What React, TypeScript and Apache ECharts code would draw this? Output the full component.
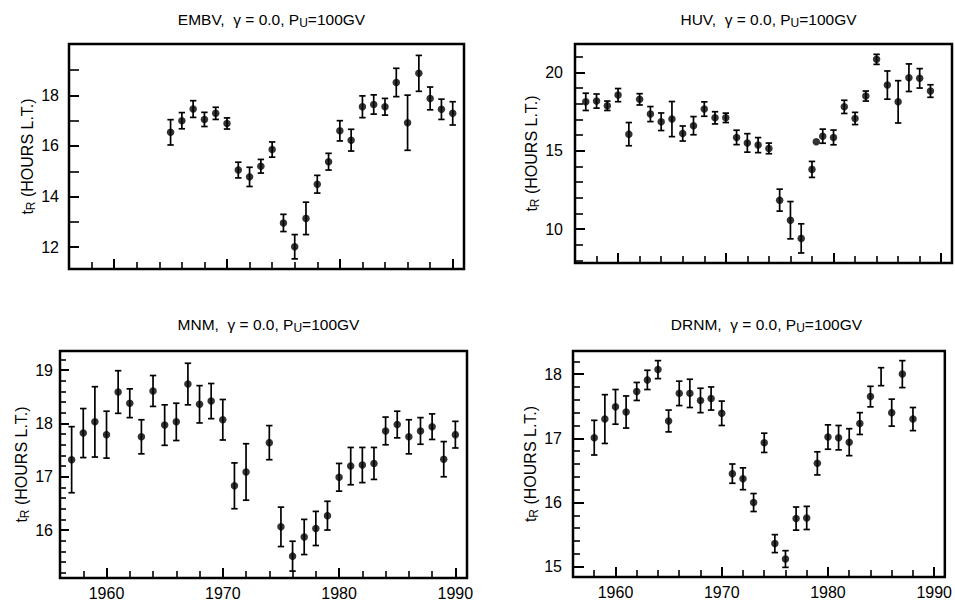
import React, { useEffect, useRef } from 'react';
import * as echarts from 'echarts';

// ---------------- data ----------------
const embvYears = [1965, 1966, 1967, 1968, 1969, 1970, 1971, 1972, 1973, 1974, 1975, 1976, 1977, 1978, 1979, 1980, 1981, 1982, 1983, 1984, 1985, 1986, 1987, 1988, 1989, 1990];
const embvValues = [16.54, 17.0, 17.46, 17.05, 17.29, 16.89, 15.05, 14.78, 15.2, 15.86, 12.96, 12.02, 13.14, 14.49, 15.38, 16.6, 16.23, 17.55, 17.64, 17.55, 18.51, 16.92, 18.87, 17.88, 17.45, 17.29];
const embvErrors = [0.5, 0.32, 0.33, 0.28, 0.24, 0.22, 0.31, 0.38, 0.27, 0.3, 0.34, 0.48, 0.64, 0.35, 0.33, 0.4, 0.43, 0.43, 0.38, 0.33, 0.56, 1.09, 0.71, 0.45, 0.4, 0.46];

const huvYears = [1957, 1958, 1959, 1960, 1961, 1962, 1963, 1964, 1965, 1966, 1967, 1968, 1969, 1970, 1971, 1972, 1973, 1974, 1975, 1976, 1977, 1978, 1979, 1980, 1981, 1982, 1983, 1984, 1985, 1986, 1987, 1988, 1989];
const huvValues = [18.12, 18.17, 17.87, 18.55, 16.06, 18.28, 17.34, 16.85, 17.02, 16.1, 16.6, 17.66, 17.1, 17.1, 15.85, 15.5, 15.36, 15.15, 11.85, 10.57, 9.41, 13.81, 15.93, 15.85, 17.8, 17.06, 18.49, 20.83, 19.19, 18.12, 19.66, 19.62, 18.81];
const huvErrors = [0.55, 0.45, 0.3, 0.42, 0.74, 0.36, 0.48, 0.56, 1.12, 0.48, 0.58, 0.46, 0.39, 0.3, 0.46, 0.59, 0.48, 0.34, 0.7, 1.19, 0.93, 0.51, 0.45, 0.47, 0.42, 0.39, 0.32, 0.32, 0.9, 1.35, 0.88, 0.62, 0.4];
const huvExtraYears = [1978.4];
const huvExtraValues = [15.57];

const mnmYears = [1957, 1958, 1959, 1960, 1961, 1962, 1963, 1964, 1965, 1966, 1967, 1968, 1969, 1970, 1971, 1972, 1974, 1975, 1976, 1977, 1978, 1979, 1980, 1981, 1982, 1983, 1984, 1985, 1986, 1987, 1988, 1989, 1990];
const mnmValues = [17.32, 17.82, 18.03, 17.79, 18.59, 18.38, 17.75, 18.61, 17.97, 18.03, 18.74, 18.36, 18.42, 18.07, 16.83, 17.09, 17.64, 16.06, 15.51, 15.87, 16.03, 16.27, 16.99, 17.2, 17.22, 17.25, 17.86, 17.98, 17.75, 17.86, 17.94, 17.33, 17.79];
const mnmErrors = [0.62, 0.46, 0.66, 0.44, 0.4, 0.27, 0.32, 0.29, 0.38, 0.35, 0.39, 0.35, 0.33, 0.38, 0.43, 0.53, 0.32, 0.37, 0.28, 0.33, 0.32, 0.27, 0.26, 0.35, 0.33, 0.3, 0.26, 0.25, 0.32, 0.25, 0.24, 0.33, 0.25];

const drnmYears = [1958, 1959, 1960, 1961, 1962, 1963, 1964, 1965, 1966, 1967, 1968, 1969, 1970, 1971, 1972, 1973, 1974, 1975, 1976, 1977, 1978, 1979, 1980, 1981, 1982, 1983, 1984, 1985, 1986, 1987, 1988];
const drnmValues = [17.01, 17.3, 17.49, 17.41, 17.73, 17.91, 18.07, 17.27, 17.7, 17.7, 17.59, 17.62, 17.39, 16.45, 16.37, 16.0, 16.93, 15.36, 15.12, 15.75, 15.76, 16.61, 17.02, 17.01, 16.94, 17.23, 17.65, 17.96, 17.4, 18.0, 17.3];
const drnmErrors = [0.27, 0.38, 0.27, 0.25, 0.14, 0.15, 0.14, 0.17, 0.19, 0.22, 0.19, 0.18, 0.19, 0.15, 0.17, 0.14, 0.15, 0.14, 0.13, 0.18, 0.18, 0.18, 0.19, 0.19, 0.21, 0.17, 0.16, 0.14, 0.21, 0.21, 0.18];
const drnmNoDotYears = [1985];

// tick values
const xMinorTicks = [1958, 1962, 1964, 1966, 1968, 1972, 1974, 1976, 1978, 1982, 1984, 1986, 1988];
const xMajorTicks = [1960, 1970, 1980, 1990];
const embvMinorTicks = [12, 13, 14, 15, 16, 17, 18, 19];
const embvLabels = [12, 14, 16, 18];
const huvMinorTicks = [8, 9, 11, 12, 13, 14, 16, 17, 18, 19, 21];
const huvLabels = [10, 15, 20];
const mnmMinorTicks = [15.2, 15.4, 15.6, 15.8, 16.2, 16.4, 16.6, 16.8, 17.2, 17.4, 17.6, 17.8, 18.2, 18.4, 18.6, 18.8, 19.2];
const mnmLabels = [16, 17, 18, 19];
const drnmMinorTicks = [15.2, 15.4, 15.6, 15.8, 16.2, 16.4, 16.6, 16.8, 17.2, 17.4, 17.6, 17.8, 18.2];
const drnmLabels = [15, 16, 17, 18];

const FONT = 'Liberation Sans, Arial, Helvetica, sans-serif';

type Panel = {
  name: string;
  years: number[];
  values: number[];
  errors: number[];
  extraYears?: number[];
  extraValues?: number[];
  noDot?: number[];
  grid: { left: number; top: number; width: number; height: number };
  yMin: number;
  yMax: number;
  yMinor: number[];
  yLabels: number[];
  yMinorLen: number;
  yMajorLen: number;
  labelMargin: number;
  nameGap: number;
  showXLabels: boolean;
  titleTop: number;
};

const panels: Panel[] = [
  {
    name: 'EMBV', years: embvYears, values: embvValues, errors: embvErrors,
    grid: { left: 69, top: 44, width: 395, height: 225 },
    yMin: 11.14, yMax: 20.03, yMinor: embvMinorTicks, yLabels: embvLabels,
    yMinorLen: 10, yMajorLen: 10, labelMargin: 10, nameGap: 32, showXLabels: false, titleTop: 5,
  },
  {
    name: 'HUV', years: huvYears, values: huvValues, errors: huvErrors,
    extraYears: huvExtraYears, extraValues: huvExtraValues,
    grid: { left: 575, top: 44, width: 377, height: 219 },
    yMin: 7.84, yMax: 21.81, yMinor: huvMinorTicks, yLabels: huvLabels,
    yMinorLen: 8, yMajorLen: 10, labelMargin: 12, nameGap: 34, showXLabels: false, titleTop: 5,
  },
  {
    name: 'MNM', years: mnmYears, values: mnmValues, errors: mnmErrors,
    grid: { left: 60, top: 351, width: 407, height: 227 },
    yMin: 15.1, yMax: 19.36, yMinor: mnmMinorTicks, yLabels: mnmLabels,
    yMinorLen: 6, yMajorLen: 9, labelMargin: 7, nameGap: 25, showXLabels: true, titleTop: 310,
  },
  {
    name: 'DRNM', years: drnmYears, values: drnmValues, errors: drnmErrors,
    noDot: drnmNoDotYears,
    grid: { left: 573, top: 351, width: 377, height: 226 },
    yMin: 14.84, yMax: 18.36, yMinor: drnmMinorTicks, yLabels: drnmLabels,
    yMinorLen: 7, yMajorLen: 11, labelMargin: 11, nameGap: 31, showXLabels: true, titleTop: 310,
  },
];

function buildOption() {
  const grid: any[] = [];
  const xAxis: any[] = [];
  const yAxis: any[] = [];
  const series: any[] = [];
  const title: any[] = [];
  const tickLine = { color: '#000', width: 1.6 };

  panels.forEach((p, i) => {
    grid.push({
      ...p.grid,
      show: true,
      borderColor: '#000',
      borderWidth: 2.5,
      backgroundColor: 'transparent',
      containLabel: false,
    });
    title.push({
      text: `{a|${p.name},  γ = 0.0, P}{s|U}{a|=100GV}`,
      left: p.grid.left + p.grid.width / 2,
      top: p.titleTop,
      textAlign: 'center',
      textStyle: {
        fontWeight: 'normal',
        rich: {
          a: { fontFamily: FONT, fontSize: 15.5, fontWeight: 'normal', color: '#000', lineHeight: 18 },
          s: { fontFamily: FONT, fontSize: 12, fontWeight: 'normal', color: '#000', lineHeight: 12, padding: [8, 0, 0, 0] },
        },
      },
    });
    const xBase = {
      type: 'value', gridIndex: i, min: 1956, max: 1991, position: 'bottom', offset: 0,
      axisLine: { show: false }, splitLine: { show: false },
    };
    // minor x ticks
    xAxis.push({
      ...xBase,
      axisTick: { show: true, inside: true, length: 7, lineStyle: tickLine, customValues: xMinorTicks },
      axisLabel: { show: false },
    });
    // major x ticks + labels
    xAxis.push({
      ...xBase,
      axisTick: { show: true, inside: true, length: 10, lineStyle: { color: '#000', width: 2 }, customValues: xMajorTicks },
      axisLabel: {
        show: p.showXLabels, customValues: xMajorTicks, fontFamily: FONT, fontSize: 16, color: '#000', margin: 7,
        formatter: (v: number) => String(Math.round(v)),
      },
    });
    const yBase = {
      type: 'value', gridIndex: i, min: p.yMin, max: p.yMax, position: 'left', offset: 0,
      axisLine: { show: false }, splitLine: { show: false },
    };
    yAxis.push({
      ...yBase,
      axisTick: { show: true, inside: true, length: p.yMinorLen, lineStyle: tickLine, customValues: p.yMinor },
      axisLabel: { show: false },
    });
    yAxis.push({
      ...yBase,
      axisTick: { show: true, inside: true, length: p.yMajorLen, lineStyle: { color: '#000', width: 2 }, customValues: p.yLabels },
      axisLabel: {
        show: true, customValues: p.yLabels, fontFamily: FONT, fontSize: 16, color: '#000', margin: p.labelMargin,
        formatter: (v: number) => String(Math.round(v)),
      },
      name: '{t|t}{s|R}{t| (HOURS L.T.)}',
      nameLocation: 'middle',
      nameGap: p.nameGap,
      nameRotate: 90,
      nameTextStyle: {
        rich: {
          t: { fontFamily: FONT, fontSize: 16, color: '#000', lineHeight: 18 },
          s: { fontFamily: FONT, fontSize: 12, color: '#000', lineHeight: 12, padding: [8, 0, 0, 0] },
        },
      },
    });

    const xIdx = 2 * i + 1;
    const yIdx = 2 * i + 1;
    const barData = p.years.map((yr, k) => [yr, p.values[k] - p.errors[k], p.values[k] + p.errors[k]]);
    series.push({
      type: 'custom',
      xAxisIndex: xIdx,
      yAxisIndex: yIdx,
      data: barData,
      encode: { x: 0, y: [1, 2] },
      silent: true,
      renderItem: (params: any, api: any) => {
        const x = api.value(0);
        const lo = api.coord([x, api.value(1)]);
        const hi = api.coord([x, api.value(2)]);
        const w = 3.2;
        const st = { stroke: '#000', lineWidth: 1.7 };
        return {
          type: 'group',
          children: [
            { type: 'line', shape: { x1: lo[0], y1: lo[1], x2: hi[0], y2: hi[1] }, style: st },
            { type: 'line', shape: { x1: lo[0] - w, y1: lo[1], x2: lo[0] + w, y2: lo[1] }, style: st },
            { type: 'line', shape: { x1: hi[0] - w, y1: hi[1], x2: hi[0] + w, y2: hi[1] }, style: st },
          ],
        };
      },
    });
    const noDot = p.noDot || [];
    const dots = p.years
      .map((yr, k) => [yr, p.values[k]])
      .filter((d) => noDot.indexOf(d[0]) < 0);
    (p.extraYears || []).forEach((yr, k) => dots.push([yr, (p.extraValues as number[])[k]]));
    series.push({
      type: 'scatter',
      xAxisIndex: xIdx,
      yAxisIndex: yIdx,
      data: dots,
      symbol: 'circle',
      symbolSize: 7.5,
      itemStyle: { color: '#000' },
      silent: true,
    });
  });

  return {
    animation: false,
    backgroundColor: '#fff',
    title,
    grid,
    xAxis,
    yAxis,
    series,
  };
}

export default function App() {
  const ref = useRef<HTMLDivElement>(null);
  useEffect(() => {
    if (!ref.current) return;
    const chart = echarts.init(ref.current, undefined, { renderer: 'svg' });
    chart.setOption(buildOption() as any);
    return () => chart.dispose();
  }, []);
  return (
    <div
      ref={ref}
      style={{ position: 'fixed', left: 0, top: 0, width: 955, height: 603, background: '#fff' }}
    />
  );
}
